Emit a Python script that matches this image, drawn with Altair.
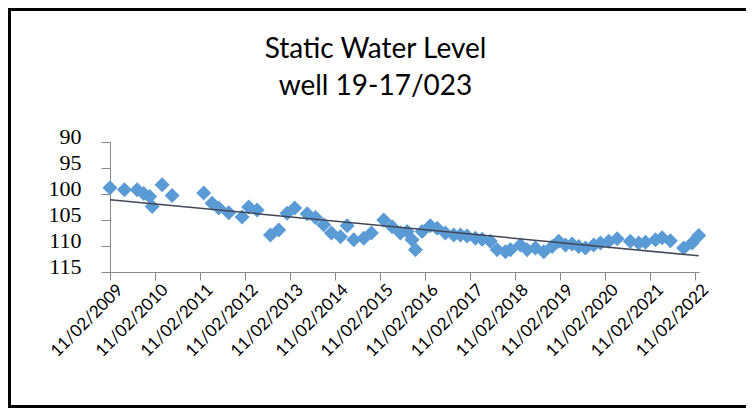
import altair as alt
import pandas as pd

dates = [
    "2009-02-11", "2009-06-08", "2009-09-19", "2009-11-11", "2009-12-30", "2010-01-19",
    "2010-04-10", "2010-06-30", "2011-03-13", "2011-05-20", "2011-07-13", "2011-10-02",
    "2012-01-18", "2012-03-12", "2012-05-19", "2012-09-04", "2012-11-10", "2013-01-17",
    "2013-03-20", "2013-06-29", "2013-09-04", "2013-11-10", "2014-01-12", "2014-03-26",
    "2014-05-19", "2014-07-12", "2014-10-01", "2014-12-02", "2015-03-12", "2015-05-19",
    "2015-07-25", "2015-09-18", "2015-10-28", "2015-11-24", "2016-01-17", "2016-03-24",
    "2016-05-18", "2016-07-24", "2016-09-30", "2016-11-23", "2017-01-16", "2017-03-25",
    "2017-05-18", "2017-07-24", "2017-09-17", "2017-11-23", "2018-01-03", "2018-03-25",
    "2018-05-18", "2018-07-24", "2018-09-30", "2018-12-07", "2019-01-29", "2019-03-25",
    "2019-05-18", "2019-07-11", "2019-09-03", "2019-11-09", "2020-01-03", "2020-03-10",
    "2020-05-17", "2020-09-01", "2020-11-08", "2021-01-02", "2021-03-24", "2021-05-17",
    "2021-07-23", "2021-11-08", "2022-01-15", "2022-03-10",
]
levels = [
    98.8, 99.2, 99.2, 99.9, 100.5, 102.4,
    98.2, 100.3, 99.8, 101.8, 102.7, 103.6,
    104.4, 102.5, 103.1, 107.9, 106.9, 103.7,
    102.7, 103.8, 104.5, 105.9, 107.5, 108.2,
    106.1, 108.8, 108.5, 107.5, 105.0, 106.3,
    107.5, 107.2, 108.8, 110.7, 107.2, 106.1,
    106.6, 107.5, 107.9, 107.9, 108.1, 108.5,
    108.7, 109.1, 110.7, 111.1, 110.7, 109.8,
    110.7, 110.4, 111.1, 110.1, 109.1, 109.8,
    109.6, 110.1, 110.4, 109.8, 109.4, 109.1,
    108.6, 109.1, 109.4, 109.3, 108.8, 108.4,
    109.0, 110.4, 109.4, 108.0,
]
tick_years = list(range(2009, 2023))
y_ticks = [90, 95, 100, 105, 110, 115]

df = pd.DataFrame({"date": dates, "level": levels})

W, H = 589, 130
PL, PT, PR, PB = 102, 134, 47, 136

xscale = alt.Scale(domain=["2009-02-11", "2022-03-12"])
yscale = alt.Scale(domain=[90, 115], reverse=True, nice=False, zero=False)

xaxis = alt.Axis(
    values=[alt.DateTime(year=y, month=2, date=11) for y in tick_years],
    format="%d/%m/%Y", labelAngle=-45, labelAlign="right", labelBaseline="middle",
    labelFont="Lato", labelFontSize=17, labelColor="#000000", labelPadding=7,
    labelOffset=10, tickSize=8, tickColor="#868686", domainColor="#868686",
    grid=False, title=None, labelOverlap=False, labelFlush=False,
)
yaxis = alt.Axis(
    values=y_ticks, labelFont="Liberation Serif", labelFontSize=22, labelColor="#000000",
    labelPadding=20, labelOffset=-6, tickSize=9, tickColor="#868686",
    domainColor="#868686", grid=False, title=None, labelOverlap=False,
    labelFlush=False, labelBound=False,
)

points = alt.Chart(df).mark_point(
    shape="diamond", filled=True, size=225, color="#5B9BD5", opacity=1
).encode(
    x=alt.X("date:T", scale=xscale, axis=xaxis),
    y=alt.Y("level:Q", scale=yscale, axis=yaxis),
)

trend = alt.Chart(df).transform_calculate(
    t="toDate(datum.date)"
).transform_regression("t", "level").mark_line(
    color="#404655", strokeWidth=1.5
).encode(
    x=alt.X("t:T", scale=xscale, axis=xaxis),
    y=alt.Y("level:Q", scale=yscale, axis=yaxis),
)

one = alt.Data(values=[{"k": 1}])
left_border = alt.Chart(one).mark_rule(color="#000000", strokeWidth=3).encode(
    x=alt.value(-PL + 1.5), y=alt.value(-PT), y2=alt.value(H + PB)
)
top_border = alt.Chart(one).mark_rule(color="#000000", strokeWidth=3).encode(
    x=alt.value(-PL), x2=alt.value(W + PR), y=alt.value(-PT + 1.5)
)
bottom_border = alt.Chart(one).mark_rule(color="#000000", strokeWidth=3).encode(
    x=alt.value(-PL), x2=alt.value(W + PR), y=alt.value(H + PB - 1.5)
)

chart = alt.layer(points, trend, left_border, top_border, bottom_border).properties(
    width=W, height=H,
    padding={"left": PL, "top": PT, "right": PR, "bottom": PB},
    autosize=alt.AutoSizeParams(type="none"),
    background="#ffffff",
    title=alt.TitleParams(
        ["Static Water Level", "well 19-17/023"], font="Lato", fontSize=28,
        fontWeight="normal", color="#000000", anchor="middle", dx=-29,
        offset=-94, lineHeight=37, frame="group",
    ),
).configure_view(strokeWidth=0, stroke="transparent").configure_axis(labelOverlap=False)

chart.save("out.html", embed_options={"renderer": "svg", "actions": False})
